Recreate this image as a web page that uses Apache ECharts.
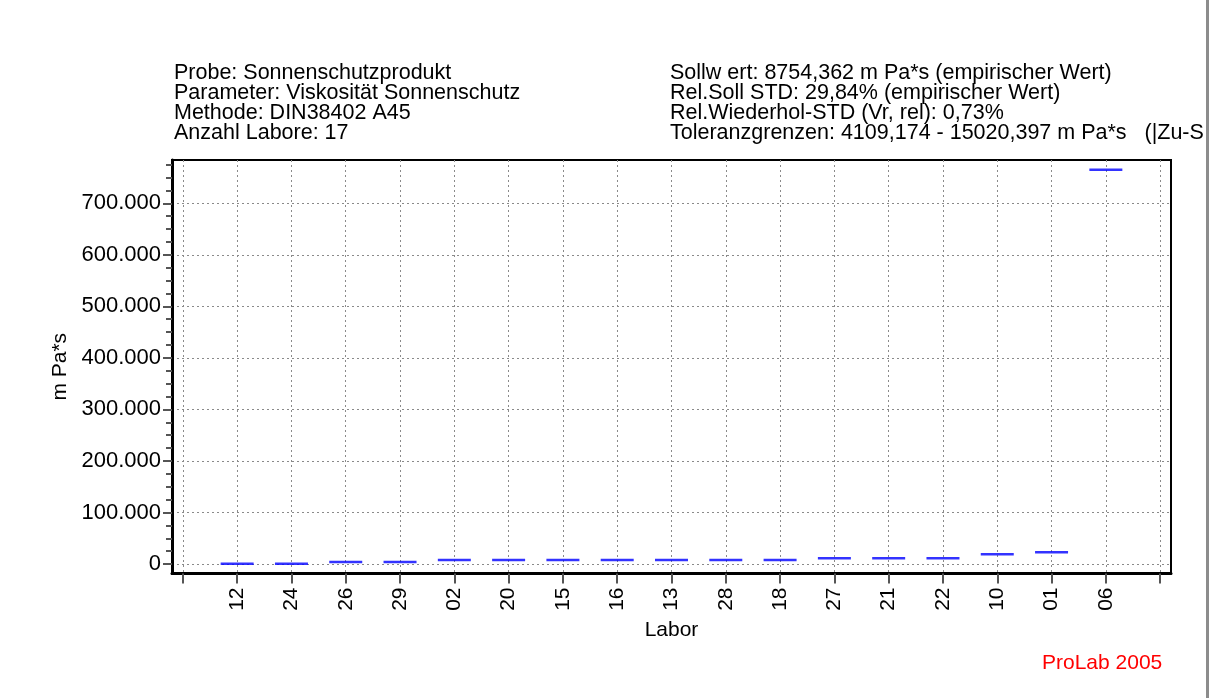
<!DOCTYPE html>
<html><head><meta charset="utf-8">
<script src="https://cdn.jsdelivr.net/npm/echarts@6/dist/echarts.min.js"></script>
<style>html,body{margin:0;padding:0;background:#fff}#c{width:1219px;height:698px}</style>
</head><body><div id="c"></div>
<script>
// ---- data ----
const labs = ['12','24','26','29','02','20','15','16','13','28','18','27','21','22','10','01','06'];
const values = [500, 600, 3900, 4000, 7800, 7800, 7800, 7800, 7800, 7800, 7800, 11000, 11000, 11000, 18800, 22700, 765000];
const yTickValues = [0, 100000, 200000, 300000, 400000, 500000, 600000, 700000];
const yMinorTicks = [25000,50000,75000,125000,150000,175000,225000,250000,275000,325000,350000,375000,425000,450000,475000,525000,550000,575000,625000,650000,675000,725000,750000,775000];
const xTickPositions = [0,1,2,3,4,5,6,7,8,9,10,11,12,13,14,15,16,17,18];
const xLabelPositions = [1,2,3,4,5,6,7,8,9,10,11,12,13,14,15,16,17];
const infoLeft = ['Probe: Sonnenschutzprodukt','Parameter: Viskosität Sonnenschutz','Methode: DIN38402 A45','Anzahl Labore: 17'];
const infoRight = ['Sollw ert: 8754,362 m Pa*s (empirischer Wert)','Rel.Soll STD: 29,84% (empirischer Wert)','Rel.Wiederhol-STD (Vr, rel): 0,73%','Toleranzgrenzen: 4109,174 - 15020,397 m Pa*s   (|Zu-S'];

const FONT = '"Liberation Sans", Arial, sans-serif';
function deFmt(v){ return String(v).replace(/\B(?=(\d{3})+(?!\d))/g, '.'); }

const chart = echarts.init(document.getElementById('c'), null, {renderer:'canvas'});
chart.setOption({
  animation: false,
  backgroundColor: '#fff',
  grid: {left: 172, top: 160, width: 999, height: 413.5, show: true, borderColor: '#000', borderWidth: 2, backgroundColor: 'transparent'},
  xAxis: {
    type: 'value', min: -0.2, max: 18.2,
    name: 'Labor', nameLocation: 'middle', nameGap: 46,
    nameTextStyle: {fontFamily: FONT, fontSize: 21, color: '#000'},
    axisLine: {show: true, onZero: false, lineStyle: {color: '#000', width: 3}},
    axisTick: {show: true, customValues: xTickPositions, length: 10, lineStyle: {color: '#555', width: 2}},
    axisLabel: {show: true, customValues: xLabelPositions, rotate: 90, margin: 14,
      fontFamily: FONT, fontSize: 21, color: '#000',
      formatter: v => labs[Math.round(v) - 1] || ''},
    splitLine: {show: true, lineStyle: {color: '#8a8a8a', type: [2, 3], width: 1}}
  },
  yAxis: [{
    type: 'value', min: -18400, max: 784000, position: 'left',
    name: 'm Pa*s', nameLocation: 'middle', nameGap: 92,
    nameTextStyle: {fontFamily: FONT, fontSize: 21, color: '#000'},
    axisLine: {show: true, onZero: false, lineStyle: {color: '#000', width: 3}},
    axisTick: {show: true, customValues: yTickValues, length: 9, lineStyle: {color: '#555', width: 2}},
    axisLabel: {show: true, customValues: yTickValues, margin: 11, fontFamily: FONT, fontSize: 22, color: '#000',
      formatter: v => deFmt(v)},
    splitLine: {show: true, lineStyle: {color: '#8a8a8a', type: [2, 3], width: 1}}
  }, {
    type: 'value', min: -18400, max: 784000, position: 'left', offset: 0,
    axisLine: {show: false, onZero: false},
    axisTick: {show: true, inside: false, customValues: yMinorTicks, length: 6, lineStyle: {color: '#555', width: 2}},
    axisLabel: {show: false},
    splitLine: {show: false}
  }],
  series: [{
    type: 'scatter', xAxisIndex: 0, yAxisIndex: 0, clip: false, silent: true,
    symbol: 'rect', symbolSize: [33, 2.5],
    itemStyle: {color: '#0000ff'},
    data: values.map((v, i) => [i + 1, v])
  }],
  graphic: [
    {type: 'text', left: 174, top: 62, silent: true,
      style: {text: infoLeft.join('\n'), font: '21.5px ' + FONT, lineHeight: 20, fill: '#000'}},
    {type: 'text', left: 670, top: 62, silent: true,
      style: {text: infoRight.join('\n'), font: '21.5px ' + FONT, lineHeight: 20, fill: '#000'}},
    {type: 'text', left: 1042, top: 653, silent: true,
      style: {text: 'ProLab 2005', font: '21px ' + FONT, fill: '#ff0000'}},
    {type: 'rect', shape: {x: 1209, y: 0, width: 10, height: 698}, style: {fill: '#fff'}, silent: true, z: 50},
    {type: 'line', shape: {x1: 1207.5, y1: 0, x2: 1207.5, y2: 698}, style: {stroke: '#8c8c8c', lineWidth: 3}, silent: true, z: 51}
  ]
});
</script></body></html>
